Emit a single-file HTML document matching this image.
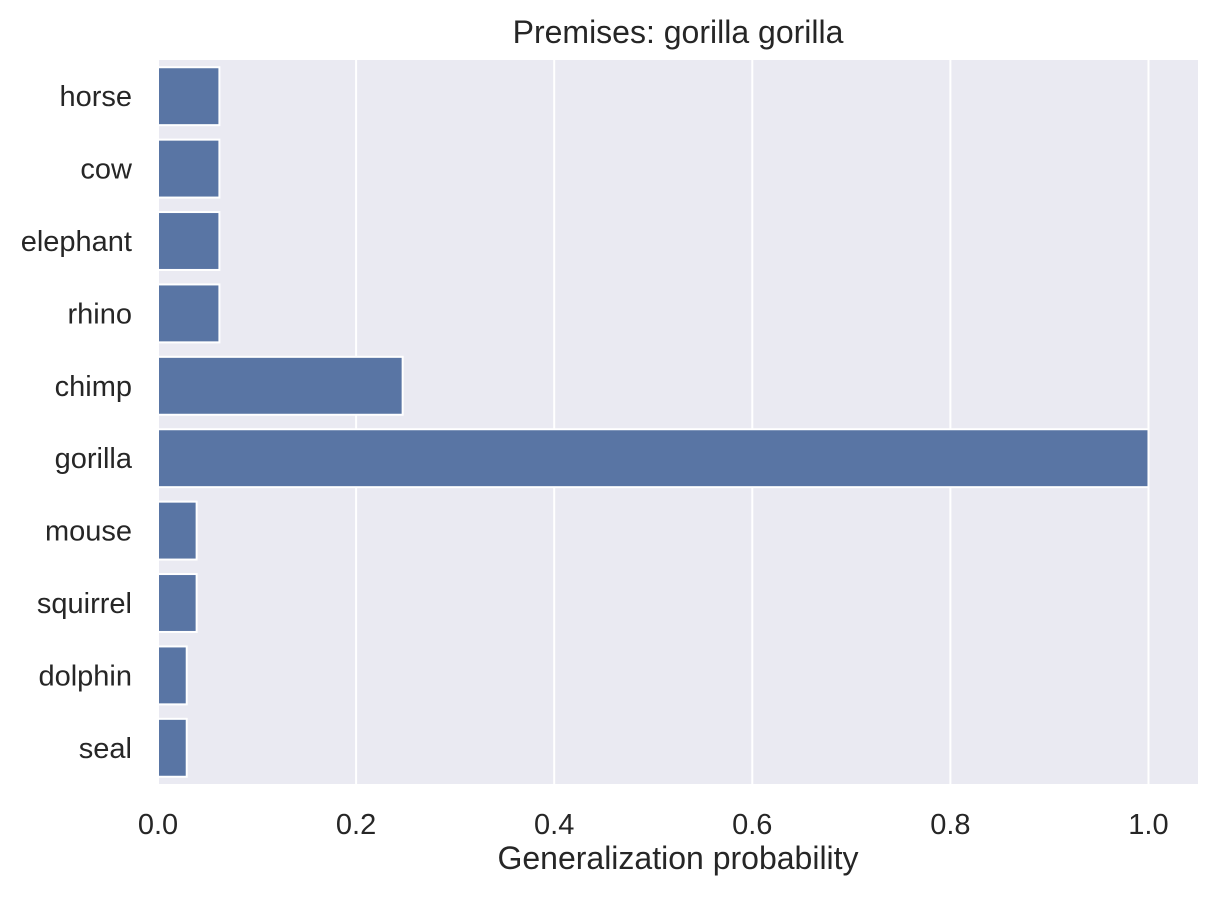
<!DOCTYPE html>
<html><head><meta charset="utf-8"><style>
body{margin:0;background:#fff;}
svg text{font-family:"Liberation Sans",Arial,sans-serif;fill:#262626;}
</style></head><body>
<svg id="chart" width="1217" height="895" xmlns="http://www.w3.org/2000/svg">
<rect x="158" y="60" width="1040" height="724" fill="#eaeaf2"/>
<g id="grid"></g>
<g id="bars"></g>
<g id="yticks"></g>
<g id="xticks"></g>
<text x="678" y="43" font-size="32" text-anchor="middle">Premises: gorilla gorilla</text>
<text x="678" y="869" font-size="32" text-anchor="middle">Generalization probability</text>
</svg>
<script>
const categories=["horse","cow","elephant","rhino","chimp","gorilla","mouse","squirrel","dolphin","seal"];
const values=[0.062,0.062,0.062,0.062,0.247,1.0,0.039,0.039,0.029,0.029];
const xTicks=[0,0.2,0.4,0.6,0.8,1.0];
const xTickLabels=["0.0","0.2","0.4","0.6","0.8","1.0"];
const NS="http://www.w3.org/2000/svg";
const x0=158,x1=1198,xmax=1.05,yTop=60,yBot=784;
const xs=v=>x0+(v/xmax)*(x1-x0);
const band=(yBot-yTop)/categories.length;
const yc=i=>yTop+band*(i+0.5);
function mk(t,a,p){const e=document.createElementNS(NS,t);for(const k in a)e.setAttribute(k,a[k]);p.appendChild(e);return e;}
const grid=document.getElementById('grid'),xt=document.getElementById('xticks');
xTicks.forEach((v,i)=>{
 const l=mk('line',{x1:xs(v),x2:xs(v),y1:yTop,y2:yBot,stroke:'#fff','stroke-width':2},grid);
 
 
 const t=mk('text',{x:xs(v),y:yBot+50,'font-size':29,'text-anchor':'middle'},xt);
 t.textContent=xTickLabels[i];
 
 
});
const bars=document.getElementById('bars'),yt=document.getElementById('yticks');
categories.forEach((c,i)=>{
 const h=band*0.8;
 const r=mk('rect',{x:xs(0),y:yc(i)-h/2,width:xs(values[i])-xs(0),height:h,fill:'#5975a4',stroke:'#fff','stroke-width':2},bars);
 
 
 const t=mk('text',{x:132,y:yc(i)+10,'font-size':29,'text-anchor':'end'},yt);
 t.textContent=c;
 
 
});
</script>
</body></html>
